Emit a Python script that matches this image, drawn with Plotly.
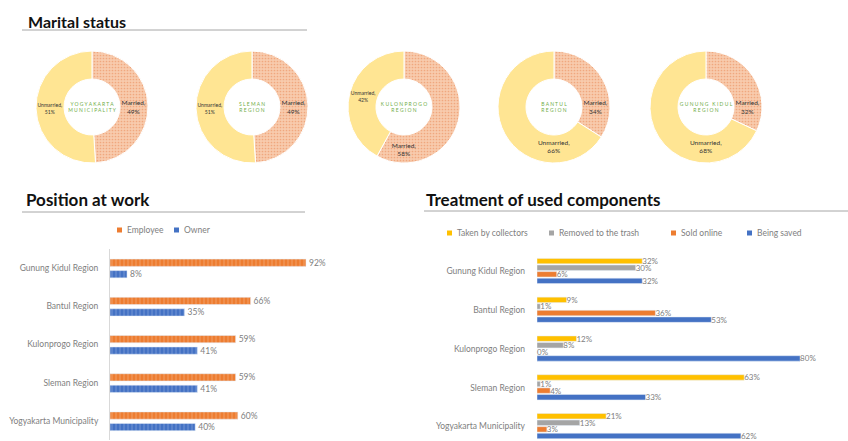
import plotly.graph_objects as go

W, H = 848, 441

# ---------------- data ----------------
pie_regions = ["YOGYAKARTA<br>MUNICIPALITY", "SLEMAN<br>REGION", "KULONPROGO<br>REGION",
               "BANTUL<br>REGION", "GUNUNG KIDUL<br>REGION"]
marital_labels = ["Married", "Unmarried"]
married = [49, 49, 58, 34, 32]
unmarried = [51, 51, 42, 66, 68]

regions = ["Gunung Kidul Region", "Bantul Region", "Kulonprogo Region",
           "Sleman Region", "Yogyakarta Municipality"]
employee = [92, 66, 59, 59, 60]
owner = [8, 35, 41, 41, 40]

collectors = [32, 9, 12, 63, 21]
trash = [30, 1, 8, 1, 13]
sold_online = [6, 36, 0, 4, 3]
being_saved = [32, 53, 80, 33, 62]


def fx(x):
    return x / W


def fy(y):
    return 1 - y / H


def spaced(s):
    return "<br>".join(" ".join(list(part)) for part in s.split("<br>"))


fig = go.Figure()

# ---------------- donuts ----------------
pie_cx = [92, 252, 404, 554, 706]
pie_cy, pie_r = 107, 56
for i in range(5):
    cx = pie_cx[i]
    fig.add_trace(go.Pie(
        labels=marital_labels,
        values=[married[i], unmarried[i]],
        hole=0.5, sort=False, direction="clockwise", rotation=0,
        domain=dict(x=[fx(cx - pie_r), fx(cx + pie_r)], y=[fy(pie_cy + pie_r), fy(pie_cy - pie_r)]),
        marker=dict(colors=["#F8CBAD", "#FFE593"],
                    line=dict(color="white", width=1),
                    pattern=dict(shape=[".", ""], fgcolor="#F0A77E", bgcolor="#F8CBAD",
                                 size=3, solidity=0.25)),
        texttemplate="%{label},<br>%{value}%",
        textposition="inside", insidetextorientation="horizontal",
        textfont=dict(size=6.5, color="#333333", family="Lato"),
        title=dict(text=spaced(pie_regions[i]), position="middle center",
                   font=dict(size=5, color="#70AD47", family="Lato")),
        showlegend=False, hoverinfo="label+percent",
    ))

labfont = dict(size=8.5, color="#808080", family="Lato")
labfont2 = dict(size=8, color="#808080", family="Lato")

# ---------------- position at work ----------------
bw1 = 0.19
left_series = [
    ("Employee", employee, "#ED7D31", "#F6B58A", -0.235),
    ("Owner", owner, "#4472C4", "#93AEE0", 0.065),
]
for name, vals, col, fg, off in left_series:
    fig.add_trace(go.Bar(
        y=regions, x=vals, orientation="h", name=name,
        width=bw1, offset=off, xaxis="x", yaxis="y", showlegend=False,
        marker=dict(color=col, pattern=dict(shape="|", fgcolor=fg, size=4, solidity=0.3)),
        text=[f"{v}%" for v in vals], textposition="outside", cliponaxis=False,
        constraintext="none", textfont=labfont,
    ))

# ---------------- treatment of used components ----------------
bw2 = 0.14
right_series = [
    ("Taken by collectors", collectors, "#FFC000", -0.335),
    ("Removed to the trash", trash, "#A5A5A5", -0.165),
    ("Sold online", sold_online, "#ED7D31", 0.005),
    ("Being saved", being_saved, "#4472C4", 0.175),
]
for name, vals, col, off in right_series:
    fig.add_trace(go.Bar(
        y=regions, x=vals, orientation="h", name=name,
        width=bw2, offset=off, xaxis="x2", yaxis="y2", showlegend=False,
        marker=dict(color=col),
        text=[f"{v}%" for v in vals], textposition="outside", cliponaxis=False,
        constraintext="none", textfont=labfont2,
    ))

tickfont = dict(size=8.5, color="#808080", family="Lato")

fig.update_layout(
    width=W, height=H, margin=dict(l=0, r=0, t=0, b=0),
    paper_bgcolor="white", plot_bgcolor="white",
    barmode="overlay",
    font=dict(family="Lato"),
    xaxis=dict(domain=[fx(110), fx(323)], range=[0, 100], visible=False, fixedrange=True),
    yaxis=dict(domain=[fy(440), fy(249)], anchor="x", autorange="reversed",
               showline=True, linecolor="#D9D9D9", linewidth=1, ticks="",
               tickfont=tickfont, ticklabelstandoff=9, showgrid=False),
    xaxis2=dict(domain=[fx(537), fx(833)], range=[0, 90], visible=False, fixedrange=True),
    yaxis2=dict(domain=[0, fy(252)], anchor="x2", range=[4.375, -0.5],
                showline=False, ticks="", tickfont=tickfont, ticklabelstandoff=11,
                showgrid=False),
)

# legends (small squares + labels, as in the reference)
legend_items = [
    ("Employee", "#ED7D31", 117, 230),
    ("Owner", "#4472C4", 174, 230),
    ("Taken by collectors", "#FFC000", 447, 233),
    ("Removed to the trash", "#A5A5A5", 549, 233),
    ("Sold online", "#ED7D31", 671, 233),
    ("Being saved", "#4472C4", 747, 233),
]
for text, col, x, y in legend_items:
    fig.add_shape(type="rect", xref="paper", yref="paper",
                  x0=fx(x), x1=fx(x + 5), y0=fy(y + 2.5), y1=fy(y - 2.5),
                  fillcolor=col, line=dict(width=0))
    fig.add_annotation(text=text, x=fx(x + 8), y=fy(y), xref="paper", yref="paper",
                       xanchor="left", yanchor="middle", showarrow=False,
                       font=dict(size=8.5, color="#808080", family="Lato"))

# section titles and underlines
titles = [("Marital status", 26, 21, 16), ("Position at work", 24, 199, 17),
          ("Treatment of used components", 424, 199, 17)]
for text, x, y, s in titles:
    fig.add_annotation(text=f"<b>{text}</b>", x=fx(x), y=fy(y), xref="paper", yref="paper",
                       xanchor="left", yanchor="middle", showarrow=False,
                       font=dict(size=s, color="#111111", family="Lato"))

lines = [(22, 307, 30), (22, 305, 212), (424, 848, 211)]
for x0, x1, y in lines:
    fig.add_shape(type="line", xref="paper", yref="paper", x0=fx(x0), x1=fx(x1),
                  y0=fy(y), y1=fy(y), line=dict(color="#A6A6A6", width=1))

fig.write_html("out.html")
